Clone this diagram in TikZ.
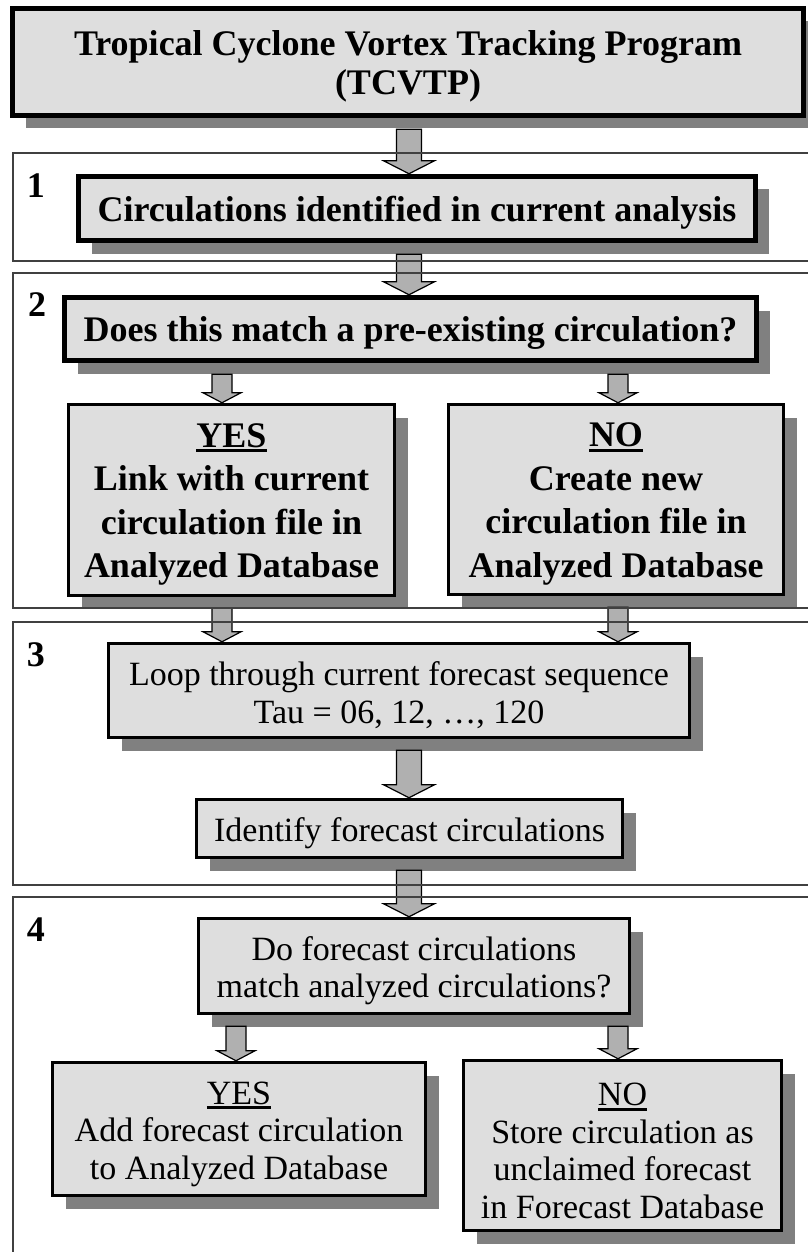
\documentclass[tikz,border=0pt]{standalone}
\usepackage{fontspec}
\setmainfont{Liberation Serif}
\usetikzlibrary{calc,shadows}
\colorlet{box fill}{black!13}
\colorlet{box shadow}{black!50}
\colorlet{arrow fill}{black!31}
\colorlet{frame edge}{black!75}
\newcommand\uword[1]{\leavevmode\setbox0\hbox{#1}\rlap{\rule[-5pt]{\wd0}{3pt}}\box0}
\newcommand\lift{\rule{0pt}{33pt}}
% block arrow: from node, to node, column, half shaft, half head, head length
\newcommand\blockarrow[6]{%
  \draw[arrowbody] let \p1=($(#1.south -| #3)+(0,11)$), \p2=(#2.north -| #3) in
    (\x1-#4pt,\y1) -- (\x1-#4pt,\y2+#6pt) -- (\x1-#5pt,\y2+#6pt) -- (\x1,\y2)
    -- (\x1+#5pt,\y2+#6pt) -- (\x1+#4pt,\y2+#6pt) -- (\x1+#4pt,\y1) -- cycle;}
\tikzset{box/.style={rectangle, draw=black, fill=box fill, line width=3.5pt,
        align=center, inner sep=0pt,
        drop shadow={shadow xshift=13pt, shadow yshift=-13pt, fill=box shadow, opacity=1}},
    heavybox/.style={box, line width=5.5pt},
    boldtext/.style={font=\fontsize{36}{43.5}\selectfont\bfseries},
    plaintext/.style={font=\fontsize{34}{37.5}\selectfont},
    seclabel/.style={font=\fontsize{36}{36}\selectfont\bfseries},
    sectionframe/.style={draw=frame edge, line width=1.5pt},
    arrowbody/.style={fill=arrow fill, draw=black, line width=1.2pt}}

\begin{document}
\begin{tikzpicture}[x=1pt, y=-1pt]
    \useasboundingbox (0,0) rectangle (807,1252);
    \coordinate (cmid) at (409,0);
    \coordinate (cleft) at (222,0);
    \coordinate (cright) at (618,0);
    \coordinate (cleftb) at (236,0);

    \node[heavybox, font=\fontsize{36}{39}\selectfont\bfseries,
          minimum width=791pt, minimum height=107pt] (tcvtp) at (408,62)
        {\lift Tropical Cyclone Vortex Tracking Program\\(TCVTP)};
    \node[heavybox, boldtext, minimum width=677pt, minimum height=64pt] (found) at (417,208.5)
        {\lift Circulations identified in current analysis};
    \node[heavybox, boldtext, minimum width=692pt, minimum height=63pt] (match) at (410.5,329)
        {\lift Does this match a pre-existing circulation?};
    \node[box, boldtext, minimum width=326pt, minimum height=191pt] (link) at (231.5,500)
        {\lift\uword{YES}\\Link with current\\circulation file in\\Analyzed Database};
    \node[box, boldtext, minimum width=335pt, minimum height=190pt] (create) at (616,499.5)
        {\lift\uword{NO}\\Create new\\circulation file in\\Analyzed Database};
    \node[box, plaintext, minimum width=581pt, minimum height=94pt] (loop) at (399,690.5)
        {\lift Loop through current forecast sequence\\Tau = 06, 12, …, 120};
    \node[box, plaintext, minimum width=426pt, minimum height=58pt] (ident) at (409.5,828.5)
        {\lift Identify forecast circulations};
    \node[box, plaintext, minimum width=431pt, minimum height=95pt] (fmatch) at (414,966)
        {\lift Do forecast circulations\\match analyzed circulations?};
    \node[box, plaintext, minimum width=373pt, minimum height=133pt] (add) at (239,1129)
        {\lift\uword{YES}\\Add forecast circulation\\to Analyzed Database};
    \node[box, plaintext, minimum width=318pt, minimum height=170pt] (store) at (622.5,1145.5)
        {\lift\uword{NO}\\Store circulation as\\unclaimed forecast\\in Forecast Database};

    \blockarrow{tcvtp}{found}{cmid}{12.5}{25.5}{13}
    \blockarrow{found}{match}{cmid}{12.5}{25.5}{13}
    \blockarrow{match}{link}{cleft}{10}{19}{10}
    \blockarrow{match}{create}{cright}{10}{19}{10}
    \blockarrow{link}{loop}{cleft}{10}{19}{10}
    \blockarrow{create}{loop}{cright}{10}{19}{10}
    \blockarrow{loop}{ident}{cmid}{12.5}{25.5}{13}
    \blockarrow{ident}{fmatch}{cmid}{12.5}{25.5}{13}
    \blockarrow{fmatch}{add}{cleftb}{10}{19}{10}
    \blockarrow{fmatch}{store}{cright}{10}{19}{10}

    \draw[sectionframe] (13,153) rectangle (830,261);
    \draw[sectionframe] (13,273) rectangle (830,608);
    \draw[sectionframe] (13,622) rectangle (830,885);
    \draw[sectionframe] (13,897) rectangle (830,1270);
    \node[seclabel] (n1) at (36,186) {1};
    \node[seclabel] (n2) at (37,305) {2};
    \node[seclabel] (n3) at (36,655) {3};
    \node[seclabel] (n4) at (36,930) {4};
\end{tikzpicture}
\end{document}
